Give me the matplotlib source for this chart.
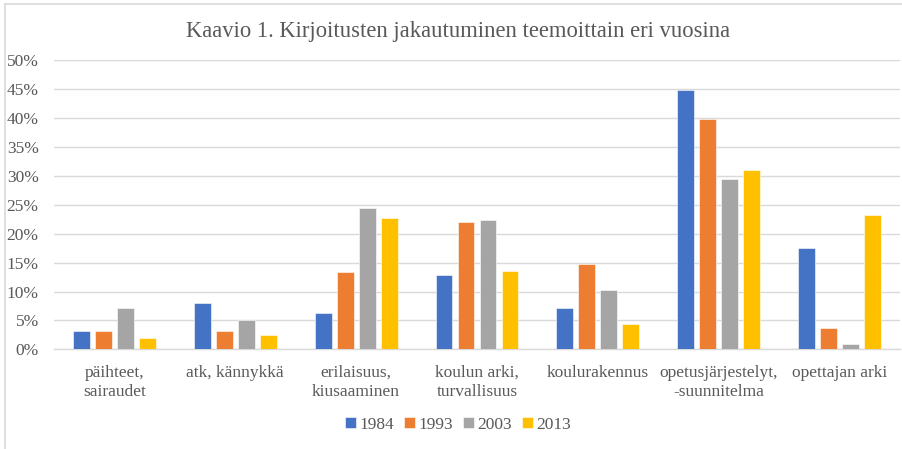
import matplotlib as mpl
mpl.use('agg')
import matplotlib.pyplot as plt
import numpy as np
from matplotlib.lines import Line2D
from matplotlib.ticker import FuncFormatter

# chart data
categories = ['päihteet,\nsairaudet', 'atk, kännykkä', 'erilaisuus,\nkiusaaminen',
              'koulun arki,\nturvallisuus', 'koulurakennus', 'opetusjärjestelyt,\n-suunnitelma',
              'opettajan arki']
years = ['1984', '1993', '2003', '2013']
v1984 = [3.1, 8.0, 6.3, 12.8, 7.2, 44.8, 17.5]
v1993 = [3.1, 3.1, 13.4, 22.0, 14.7, 39.9, 3.6]
v2003 = [7.1, 5.1, 24.4, 22.4, 10.2, 29.5, 1.0]
v2013 = [1.9, 2.5, 22.7, 13.6, 4.4, 31.1, 23.3]
colors = ['#4472C4', '#ED7D31', '#A5A5A5', '#FFC000']

plt.rcParams['font.family'] = ['Liberation Serif', 'DejaVu Serif']
txt = '#595959'
W, H = 903, 449

fig = plt.figure(figsize=(W / 100, H / 100), dpi=100)
ax = fig.add_axes([54 / W, 1 - 349.3 / H, 846 / W, 289 / H])

x = np.arange(len(categories))
width = 0.14
step = 0.182
series = [v1984, v1993, v2003, v2013]
for i, (vals, year) in enumerate(zip(series, years)):
    ax.bar(x + (i - 1.5) * step, np.array(vals) / 100, width, color=colors[i],
           label=year, edgecolor='white', linewidth=0.4, zorder=3)

ax.set_xlim(-0.5, len(categories) - 0.5)
ax.set_ylim(0, 0.5)
ax.set_yticks(np.arange(0, 0.51, 0.05))
ax.yaxis.set_major_formatter(FuncFormatter(lambda v, p: '%d%%' % round(v * 100)))
ax.grid(axis='y', color='#d9d9d9', linewidth=1, zorder=0)
for s in ['top', 'right', 'left']:
    ax.spines[s].set_visible(False)
ax.spines['bottom'].set_color('#d9d9d9')
ax.spines['bottom'].set_linewidth(1)
ax.tick_params(axis='both', length=0, labelsize=12.5, colors=txt)
ax.tick_params(axis='y', pad=11)
ax.tick_params(axis='x', pad=11)
ax.set_xticks(x)
ax.set_xticklabels(categories, linespacing=1.3)

fig.text(458 / W, 1 - 32 / H, 'Kaavio 1. Kirjoitusten jakautuminen teemoittain eri vuosina',
         ha='center', va='center', fontsize=16.3, color=txt)

fig.legend(loc='center', bbox_to_anchor=(458 / W, 1 - 425 / H), ncol=4, frameon=False,
           fontsize=12.5, handlelength=0.6, handleheight=0.6, handletextpad=0.2,
           columnspacing=0.6, labelcolor=txt)

# chart frame (top and left edges visible)
fig.add_artist(Line2D([5 / W, 5 / W], [0, 1 - 4 / H], color='#d9d9d9', lw=1.2,
                      transform=fig.transFigure))
fig.add_artist(Line2D([5 / W, 1], [1 - 4 / H, 1 - 4 / H], color='#d9d9d9', lw=1.2,
                      transform=fig.transFigure))

plt.savefig('out.png', dpi=100)
